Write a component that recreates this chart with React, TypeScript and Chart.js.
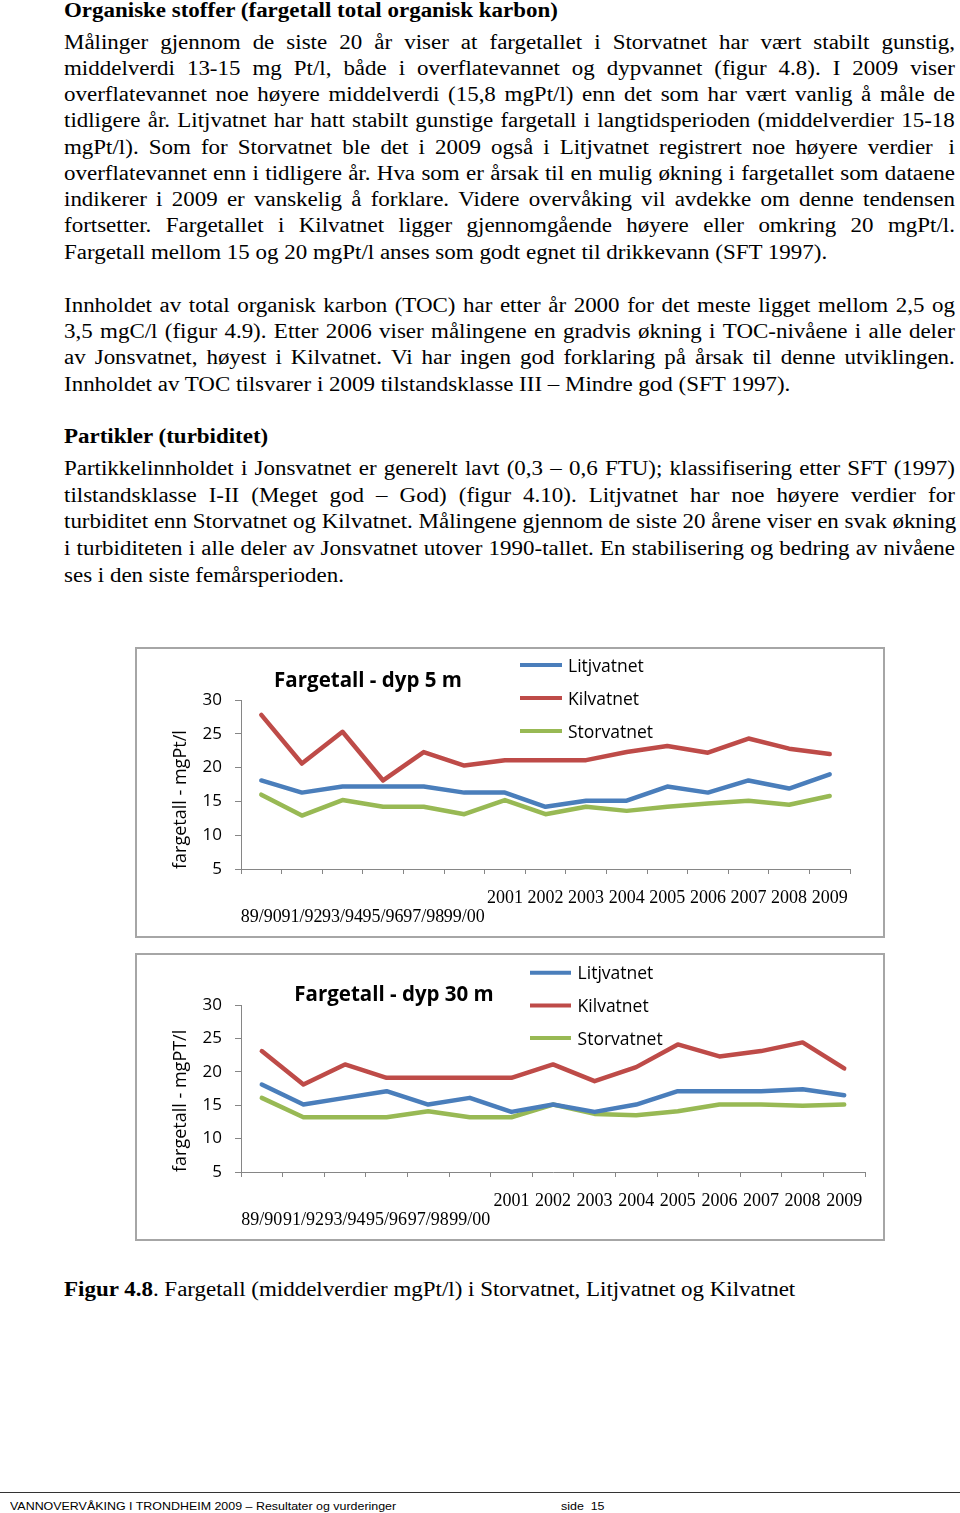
import React, { useEffect, useRef } from 'react';
import { Chart, registerables } from 'chart.js';

Chart.register(...registerables);

// ---------- data ----------
const oldPeriods = ['89/90', '91/92', '93/94', '95/96', '97/98', '99/00'];
const years = ['2001', '2002', '2003', '2004', '2005', '2006', '2007', '2008', '2009'];
const yTicks = [5, 10, 15, 20, 25, 30];

const seriesNames = ['Litjvatnet', 'Kilvatnet', 'Storvatnet'];
const seriesColors = ['#4a7ebb', '#be4b48', '#98b954'];

// Fargetall - dyp 5 m
const litj5 = [18.1, 16.3, 17.2, 17.2, 17.2, 16.3, 16.3, 14.2, 15.1, 15.1, 17.2, 16.3, 18.1, 16.9, 19.0];
const kil5 = [27.8, 20.6, 25.3, 18.1, 22.3, 20.3, 21.1, 21.1, 21.1, 22.3, 23.2, 22.2, 24.3, 22.8, 22.0];
const stor5 = [16.0, 12.9, 15.2, 14.2, 14.2, 13.1, 15.2, 13.1, 14.2, 13.6, 14.2, 14.7, 15.1, 14.5, 15.8];

// Fargetall - dyp 30 m
const litj30 = [18.1, 15.1, 16.1, 17.1, 15.1, 16.1, 14.0, 15.1, 14.0, 15.1, 17.1, 17.1, 17.1, 17.4, 16.5];
const kil30 = [23.1, 18.1, 21.1, 19.1, 19.1, 19.1, 19.1, 21.1, 18.6, 20.7, 24.1, 22.3, 23.1, 24.4, 20.5];
const stor30 = [16.1, 13.2, 13.2, 13.2, 14.1, 13.2, 13.2, 15.1, 13.7, 13.5, 14.1, 15.1, 15.1, 14.9, 15.1];

// ---------- text ----------
const heading1 = 'Organiske stoffer (fargetall total organisk karbon)';
const para1 = [
  'Målinger gjennom de siste 20 år viser at fargetallet i Storvatnet har vært stabilt gunstig,',
  'middelverdi 13-15 mg Pt/l, både i overflatevannet og dypvannet (figur 4.8). I 2009 viser',
  'overflatevannet noe høyere middelverdi (15,8 mgPt/l) enn det som har vært vanlig å måle de',
  'tidligere år. Litjvatnet har hatt stabilt gunstige fargetall i langtidsperioden (middelverdier 15-18',
  'mgPt/l). Som for Storvatnet ble det i 2009 også i Litjvatnet registrert noe høyere verdier  i',
  'overflatevannet enn i tidligere år. Hva som er årsak til en mulig økning i fargetallet som dataene',
  'indikerer i 2009 er vanskelig å forklare. Videre overvåking vil avdekke om denne tendensen',
  'fortsetter. Fargetallet i Kilvatnet ligger gjennomgående høyere eller omkring 20 mgPt/l.',
  'Fargetall mellom 15 og 20 mgPt/l anses som godt egnet til drikkevann (SFT 1997).',
];
const para2 = [
  'Innholdet av total organisk karbon (TOC) har etter år 2000 for det meste ligget mellom 2,5 og',
  '3,5 mgC/l (figur 4.9). Etter 2006 viser målingene en gradvis økning i TOC-nivåene i alle deler',
  'av Jonsvatnet, høyest i Kilvatnet. Vi har ingen god forklaring på årsak til denne utviklingen.',
  'Innholdet  av TOC tilsvarer i 2009 tilstandsklasse III – Mindre god (SFT 1997).',
];
const heading2 = 'Partikler (turbiditet)';
const para3 = [
  'Partikkelinnholdet i Jonsvatnet er generelt lavt (0,3 – 0,6 FTU); klassifisering etter SFT (1997)',
  'tilstandsklasse I-II (Meget god – God) (figur 4.10). Litjvatnet har noe høyere verdier for',
  'turbiditet enn Storvatnet og Kilvatnet. Målingene gjennom de siste 20 årene viser en svak økning',
  'i turbiditeten i alle deler av Jonsvatnet utover 1990-tallet. En stabilisering og bedring av nivåene',
  'ses i den siste femårsperioden.',
];
const captionBold = 'Figur 4.8';
const captionText = '. Fargetall (middelverdier mgPt/l) i Storvatnet, Litjvatnet og Kilvatnet';
const footerLeft = 'VANNOVERVÅKING I TRONDHEIM 2009 – Resultater og vurderinger';
const footerRight = 'side\u00a0 15';

const SERIF = "'Liberation Serif', 'Times New Roman', serif";
const SANS = "'Open Sans', sans-serif";
const TEXT_SCALE = 1.148;

function TextLine(props: { text?: string; children?: React.ReactNode; baseline: number; justify?: boolean; bold?: boolean; left?: number; width?: number; size?: number }) {
  const { text, children, baseline, justify = false, bold = false, left = 64, width = 891, size = 20 } = props;
  const L = 24;
  const top = baseline - ((L - size * 1.107) / 2 + size * 0.891);
  const innerW = width / TEXT_SCALE;
  let content: React.ReactNode = children ?? text;
  if (justify && text) {
    const words = text.split(/(?<=\S)(?= )/);
    // keep spaces attached to the preceding word
    const parts: string[] = [];
    text.split(' ').forEach((w, i, arr) => {
      if (w === '' && parts.length) {
        parts[parts.length - 1] += ' ';
      } else {
        parts.push(w + (i < arr.length - 1 ? ' ' : ''));
      }
    });
    void words;
    content = parts.map((w, i) => (
      <span key={i} style={{ whiteSpace: 'pre' }}>
        {i === parts.length - 1 ? w.trimEnd() : w}
      </span>
    ));
  }
  return (
    <div
      style={{
        position: 'absolute',
        left,
        top,
        width: innerW,
        height: L,
        lineHeight: L + 'px',
        fontSize: size,
        fontFamily: SERIF,
        fontWeight: bold ? 700 : 400,
        whiteSpace: 'nowrap',
        display: justify ? 'flex' : 'block',
        justifyContent: justify ? 'space-between' : undefined,
        transform: `scaleX(${TEXT_SCALE})`,
        transformOrigin: 'left center',
        color: '#000',
      } as React.CSSProperties}
    >
      {content}
    </div>
  );
}

type ChartBoxProps = {
  left: number;
  top: number;
  width: number;
  height: number;
  padTop: number;
  padRight: number;
  xAxisHeight: number;
  yAxisWidth: number;
  yTitle: string;
  title: string;
  titleX: number;
  titleBaseline: number;
  lx1: number;
  lx2: number;
  tx: number;
  ly: number;
  ldy: number;
  series: number[][];
};

function ChartBox(p: ChartBoxProps) {
  const ref = useRef<HTMLCanvasElement | null>(null);
  useEffect(() => {
    if (!ref.current) return;
    const labels = [...oldPeriods.map((o) => ['', o]), ...years.map((y) => [y])];
    const overlay = {
      id: 'overlay',
      afterDraw(chart: any) {
        const ctx = chart.ctx as CanvasRenderingContext2D;
        ctx.save();
        ctx.fillStyle = '#000';
        ctx.textBaseline = 'alphabetic';
        ctx.font = `bold 20.5px ${SANS}`;
        ctx.textAlign = 'center';
        ctx.fillText(p.title, p.titleX, p.titleBaseline);
        ctx.font = `17.5px ${SANS}`;
        ctx.textAlign = 'left';
        chart.data.datasets.forEach((ds: any, i: number) => {
          const y = p.ly + i * p.ldy;
          ctx.strokeStyle = ds.borderColor;
          ctx.lineWidth = 4;
          ctx.lineCap = 'butt';
          ctx.beginPath();
          ctx.moveTo(p.lx1, y);
          ctx.lineTo(p.lx2, y);
          ctx.stroke();
          ctx.fillText(ds.label, p.tx, y + 6.5);
        });
        ctx.restore();
      },
    };
    const axisColor = '#868686';
    const chart = new Chart(ref.current, {
      type: 'line',
      data: {
        labels,
        datasets: p.series.map((d, i) => ({
          label: seriesNames[i],
          data: d,
          borderColor: seriesColors[i],
          backgroundColor: seriesColors[i],
          borderWidth: 4.5,
          pointRadius: 0,
          tension: 0,
          fill: false,
          borderJoinStyle: 'round' as const,
          borderCapStyle: 'round' as const,
        })),
      },
      options: {
        animation: false,
        responsive: false,
        maintainAspectRatio: false,
        devicePixelRatio: 1,
        layout: { padding: { top: p.padTop, right: p.padRight, left: 0, bottom: 0 } },
        plugins: {
          legend: { display: false },
          title: { display: false },
          tooltip: { enabled: false },
        },
        scales: {
          x: {
            type: 'category',
            offset: true,
            grid: { display: true, offset: true, drawOnChartArea: false, drawTicks: true, tickLength: 5, color: axisColor },
            border: { display: true, color: axisColor, width: 1 },
            ticks: {
              autoSkip: false,
              maxRotation: 0,
              minRotation: 0,
              padding: 14,
              color: '#000',
              font: { family: SERIF, size: 18, lineHeight: 1.1 },
            },
            afterFit: (s: any) => {
              s.height = p.xAxisHeight;
            },
          },
          y: {
            min: 5,
            max: 30,
            afterBuildTicks: (s: any) => {
              s.ticks = yTicks.map((v) => ({ value: v }));
            },
            grid: { display: true, drawOnChartArea: false, drawTicks: true, tickLength: 6, color: axisColor },
            border: { display: true, color: axisColor, width: 1 },
            ticks: { padding: 13, color: '#000', font: { family: SANS, size: 17 } },
            title: {
              display: true,
              text: p.yTitle,
              align: 'start',
              color: '#000',
              padding: { top: 37, bottom: 0 },
              font: { family: SANS, size: 18, lineHeight: 1 },
            },
            afterFit: (s: any) => {
              s.width = p.yAxisWidth;
            },
          },
        },
      } as any,
      plugins: [overlay],
    });
    return () => chart.destroy();
  }, []);
  return (
    <div style={{ position: 'absolute', left: p.left, top: p.top, width: p.width, height: p.height }}>
      <canvas ref={ref} width={p.width} height={p.height} style={{ position: 'absolute', left: 0, top: 0, width: p.width, height: p.height }} />
      <div
        style={{
          position: 'absolute',
          left: 0,
          top: 0,
          width: p.width,
          height: p.height,
          boxSizing: 'border-box',
          border: '2px solid #a6a6a6',
          pointerEvents: 'none',
        }}
      />
    </div>
  );
}

const footerStyle: React.CSSProperties = {
  position: 'absolute',
  top: 1498.7,
  height: 14,
  lineHeight: '14px',
  fontSize: 11,
  fontFamily: "'Liberation Sans', Arial, sans-serif",
  whiteSpace: 'nowrap',
  transform: 'scaleX(1.13)',
  transformOrigin: 'left center',
  color: '#000',
};

export default function App() {
  const p1Base = 48.3;
  const p2Base = 311.5;
  const p3Base = 475;
  return (
    <div style={{ position: 'absolute', left: 0, top: 0, width: 960, height: 1513, overflow: 'hidden', background: '#fff' }}>
      <TextLine text={heading1} baseline={16.8} bold />
      {para1.map((t, i) => (
        <TextLine key={'a' + i} text={t} baseline={p1Base + i * 26.25} justify={i < para1.length - 1} />
      ))}
      {para2.map((t, i) => (
        <TextLine key={'b' + i} text={t} baseline={p2Base + i * 26.3} justify={i < para2.length - 1} />
      ))}
      <TextLine text={heading2} baseline={442.5} bold />
      {para3.map((t, i) => (
        <TextLine key={'c' + i} text={t} baseline={p3Base + i * 26.6} justify={i < para3.length - 1} />
      ))}

      <ChartBox
        left={135}
        top={647}
        width={750}
        height={291}
        padTop={53}
        padRight={35}
        xAxisHeight={69}
        yAxisWidth={106}
        yTitle="fargetall - mgPt/l"
        title="Fargetall - dyp 5 m"
        titleX={233}
        titleBaseline={39.7}
        lx1={385}
        lx2={427}
        tx={433}
        ly={18}
        ldy={33}
        series={[litj5, kil5, stor5]}
      />
      <ChartBox
        left={135}
        top={953}
        width={750}
        height={288}
        padTop={52}
        padRight={20}
        xAxisHeight={69}
        yAxisWidth={106}
        yTitle="fargetall - mgPT/l"
        title="Fargetall - dyp 30 m"
        titleX={259}
        titleBaseline={47.7}
        lx1={395}
        lx2={436}
        tx={442.6}
        ly={19.7}
        ldy={32.7}
        series={[litj30, kil30, stor30]}
      />

      <TextLine baseline={1295.5} width={900}>
        <b>{captionBold}</b>
        {captionText}
      </TextLine>

      <div style={{ position: 'absolute', left: 0, top: 1492, width: 960, height: 0, borderTop: '1.5px solid #333' }} />
      <div style={{ ...footerStyle, left: 10 }}>{footerLeft}</div>
      <div style={{ ...footerStyle, left: 561 }}>{footerRight}</div>
    </div>
  );
}
